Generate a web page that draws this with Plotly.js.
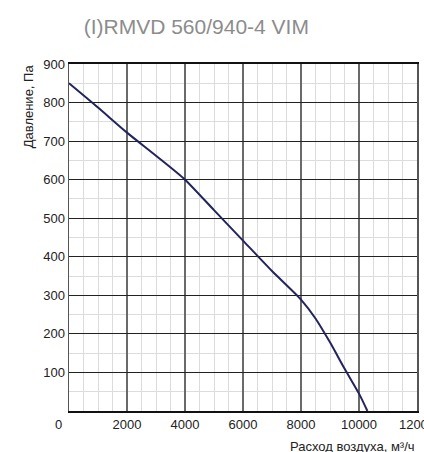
<!DOCTYPE html>
<html><head><meta charset="utf-8">
<script src="https://cdn.plot.ly/plotly-3.0.1.min.js"></script>
<style>html,body{margin:0;padding:0;overflow:hidden;background:#fff}#chart{width:424px;height:452px}</style>
</head><body><div id="chart"></div>
<script>
const flow = [0, 1000, 2000, 3000, 4000, 5000, 6000, 7000, 8000, 8500, 9000, 9500, 10000, 10290];
const pressure = [850, 787, 722, 662, 600, 521, 442, 363, 289, 240, 178, 110, 45, 0];
const xTicks = [2000, 4000, 6000, 8000, 10000, 12000];
const yTicks = [100, 200, 300, 400, 500, 600, 700, 800, 900];
const titleText = '(I)RMVD 560/940-4 VIM';
const yTitle = 'Давление, Па';
const xTitle = 'Расход воздуха, м³/ч';

const font = 'Liberation Sans, Arial, sans-serif';
const data = [{
  x: flow, y: pressure, type: 'scatter', mode: 'lines',
  line: {color: '#23235e', width: 2, shape: 'spline', smoothing: 0.7},
  hoverinfo: 'skip'
}];
const layout = {
  width: 424, height: 452,
  margin: {l: 69, r: 7, t: 64, b: 41},
  paper_bgcolor: '#fff', plot_bgcolor: '#fff',
  showlegend: false,
  font: {family: font, size: 13, color: '#222'},
  title: {text: titleText, font: {family: font, size: 21, color: '#8c8c8c'}, x: 0.463, xanchor: 'center', y: 0.942, yanchor: 'middle'},
  xaxis: {
    range: [0, 12000], tickvals: xTicks, ticktext: xTicks.map(String),
    ticklabeloverflow: 'allow',
    showgrid: true, gridcolor: '#6a6a6a', gridwidth: 1.5,
    minor: {dtick: 500, tick0: 0, showgrid: true, gridcolor: '#dcdcdc', gridwidth: 1, ticks: ''},
    showline: true, linecolor: '#111', linewidth: 2, mirror: true,
    ticks: '', zeroline: false, fixedrange: true,
    tickfont: {family: font, size: 13, color: '#222'}
  },
  yaxis: {
    range: [0, 900], tickvals: yTicks, ticktext: yTicks.map(String),
    showgrid: true, gridcolor: '#222', gridwidth: 1.2,
    minor: {dtick: 50, tick0: 0, showgrid: true, gridcolor: '#dcdcdc', gridwidth: 1, ticks: ''},
    showline: true, linecolor: '#555', linewidth: 1.5, mirror: true,
    ticks: '', zeroline: false, fixedrange: true,
    tickfont: {family: font, size: 13, color: '#222'}
  },
  annotations: [
    {text: '0', xref: 'paper', yref: 'paper', x: -0.029, y: 0, xanchor: 'center', yanchor: 'top', yshift: -4, showarrow: false, font: {family: font, size: 13, color: '#222'}},
    {text: yTitle, xref: 'paper', yref: 'paper', x: 0, xshift: -41, y: 1.005, xanchor: 'center', yanchor: 'top', textangle: -90, showarrow: false, font: {family: font, size: 13, color: '#222'}},
    {text: xTitle, xref: 'paper', yref: 'paper', x: 1, y: 0, yshift: -26, xanchor: 'right', yanchor: 'top', showarrow: false, font: {family: font, size: 13, color: '#222'}}
  ]
};
Plotly.newPlot('chart', data, layout, {staticPlot: true, displayModeBar: false});
</script></body></html>
